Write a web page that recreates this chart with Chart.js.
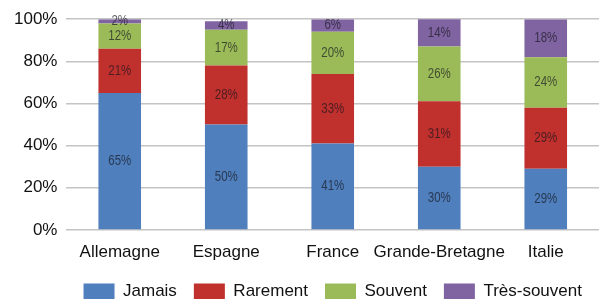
<!DOCTYPE html>
<html>
<head>
<meta charset="utf-8">
<script src="https://cdn.jsdelivr.net/npm/chart.js@4"></script>
<style>
html, body { margin: 0; padding: 0; overflow: hidden; background: #fff; }
#wrap { width: 599px; height: 310px; position: relative; }
</style>
</head>
<body>
<div id="wrap"><canvas id="chart"></canvas></div>
<script>
var pays = ['Allemagne', 'Espagne', 'France', 'Grande-Bretagne', 'Italie']
var jamais = [65, 50, 41, 30, 29]
var rarement = [21, 28, 33, 31, 29]
var souvent = [12, 17, 20, 26, 24]
var tresSouvent = [2, 4, 6, 14, 18]
var yTicks = [0, 20, 40, 60, 80, 100]

var colors = ['#4f7fbc', '#c0302d', '#9bbb59', '#8064a2']

// labels in the middle of each segment, squeezed a bit like a narrow font
var valueLabels = {
	id: 'valueLabels',
	afterDatasetsDraw: function(chart) {
		var ctx = chart.ctx
		var area = chart.chartArea
		ctx.save()
		ctx.font = '14px "Liberation Sans", Arial, sans-serif'
		ctx.textAlign = 'center'
		ctx.textBaseline = 'middle'
		ctx.fillStyle = 'rgba(20,20,30,0.68)'
		chart.data.datasets.forEach(function(ds, i) {
			var meta = chart.getDatasetMeta(i)
			meta.data.forEach(function(bar, j) {
				var top = Math.max(bar.y, area.top)
				var y = (top + bar.base) / 2
				ctx.save()
				ctx.translate(bar.x, y)
				ctx.scale(0.82, 1)
				ctx.fillText(ds.data[j] + '%', 0, 0)
				ctx.restore()
			})
		})
		ctx.restore()
	}
}

var ctx = document.getElementById('chart').getContext('2d')
var myChart = new Chart(ctx, {
	type: 'bar',
	data: {
		labels: pays,
		datasets: [
			{ label: 'Jamais', data: jamais, backgroundColor: colors[0] },
			{ label: 'Rarement', data: rarement, backgroundColor: colors[1] },
			{ label: 'Souvent', data: souvent, backgroundColor: colors[2] },
			{ label: 'Très-souvent', data: tresSouvent, backgroundColor: colors[3] }
		]
	},
	options: {
		responsive: true,
		maintainAspectRatio: false,
		animation: false,
		layout: { padding: { top: 18, right: 0, left: 5, bottom: 0 } },
		datasets: { bar: { categoryPercentage: 1, barPercentage: 0.4 } },
		scales: {
			x: {
				stacked: true,
				grid: { display: false },
				border: { display: false },
				ticks: {
					color: '#111',
					autoSkip: false,
					maxRotation: 0,
					padding: 3,
					font: { size: 17, lineHeight: 1.3, family: '"Liberation Sans", Arial, sans-serif' }
				}
			},
			y: {
				stacked: true,
				min: 0,
				max: 100,
				afterBuildTicks: function(axis) {
					axis.ticks = yTicks.map(function(v) { return { value: v } })
				},
				grid: { color: '#c4c4c4', lineWidth: 1.5, drawTicks: false },
				border: { display: false },
				ticks: {
					color: '#111',
					padding: 9,
					font: { size: 17, family: '"Liberation Sans", Arial, sans-serif' },
					callback: function(v) { return v + '%' }
				}
			}
		},
		plugins: {
			legend: {
				position: 'bottom',
				fullSize: false,
				labels: {
					boxWidth: 31,
					boxHeight: 16,
					padding: 17,
					color: '#111',
					font: { size: 17, family: '"Liberation Sans", Arial, sans-serif' }
				}
			},
			tooltip: { enabled: false }
		}
	},
	plugins: [valueLabels]
})
</script>
</body>
</html>
